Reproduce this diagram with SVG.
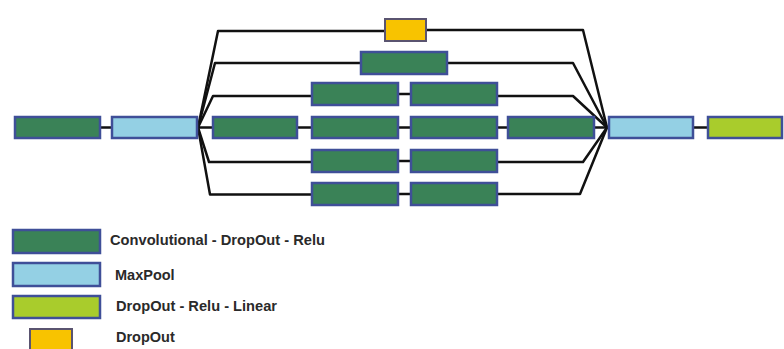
<svg xmlns="http://www.w3.org/2000/svg" width="784" height="349" viewBox="0 0 784 349">
<style>
.b{stroke:#3f4f98;stroke-width:2.5}
.g{fill:#3a8257}
.lb{fill:#94d0e4}
.lm{fill:#a9cc2c}
.y{fill:#f8c300;stroke:#5a5470;stroke-width:2}
.c{fill:none;stroke:#111;stroke-width:2.5;stroke-linejoin:round}
.t{font-family:"Liberation Sans",Arial,sans-serif;font-weight:bold;font-size:14.5px;fill:#2a2a2a}
</style>
<rect width="784" height="349" fill="#fff"/>
<g id="connectors">
<path class="c" d="M100,127.5H112"/>
<path class="c" d="M197,127.5H213"/>
<path class="c" d="M198,127.5L218,31H385"/>
<path class="c" d="M198,127.5L215,63H361"/>
<path class="c" d="M198,127.5L213,96H312"/>
<path class="c" d="M198,127.5L209,162H312"/>
<path class="c" d="M198,127.5L210,194.5H312"/>
<path class="c" d="M297,127.5H312"/>
<path class="c" d="M398,127.5H411"/>
<path class="c" d="M497,127.5H508"/>
<path class="c" d="M398,94H411"/>
<path class="c" d="M398,161H411"/>
<path class="c" d="M398,194H411"/>
<path class="c" d="M426,30H583L607,127.5"/>
<path class="c" d="M447,63H573L607,127.5"/>
<path class="c" d="M497,96H573L607,127.5"/>
<path class="c" d="M594,127.5H609"/>
<path class="c" d="M497,162H583L607,127.5"/>
<path class="c" d="M497,194H580L607,127.5"/>
<path class="c" d="M693,127.5H708"/>
</g>
<g id="in-conv"><rect class="b g" x="15" y="117" width="85" height="21"/></g>
<g id="in-pool"><rect class="b lb" x="112" y="117" width="85" height="21"/></g>
<g id="r1-drop"><rect class="y" x="385" y="19" width="41" height="22"/></g>
<g id="r2-c1"><rect class="b g" x="361" y="52" width="86" height="22"/></g>
<g id="r3-c1"><rect class="b g" x="312" y="83" width="86" height="22"/></g>
<g id="r3-c2"><rect class="b g" x="411" y="83" width="86" height="22"/></g>
<g id="r4-c1"><rect class="b g" x="213" y="117" width="84" height="21"/></g>
<g id="r4-c2"><rect class="b g" x="312" y="117" width="86" height="21"/></g>
<g id="r4-c3"><rect class="b g" x="411" y="117" width="86" height="21"/></g>
<g id="r4-c4"><rect class="b g" x="508" y="117" width="86" height="21"/></g>
<g id="r5-c1"><rect class="b g" x="312" y="150" width="86" height="22"/></g>
<g id="r5-c2"><rect class="b g" x="411" y="150" width="86" height="22"/></g>
<g id="r6-c1"><rect class="b g" x="312" y="183" width="86" height="22"/></g>
<g id="r6-c2"><rect class="b g" x="411" y="183" width="86" height="22"/></g>
<g id="out-pool"><rect class="b lb" x="609" y="117" width="84" height="21"/></g>
<g id="out-lin"><rect class="b lm" x="708" y="117" width="74" height="21"/></g>
<g id="legend">
<rect class="b g" x="13" y="230" width="87" height="23"/>
<text class="t" x="110" y="245" textLength="215" lengthAdjust="spacingAndGlyphs">Convolutional - DropOut - Relu</text>
<rect class="b lb" x="13" y="263" width="87" height="23"/>
<text class="t" x="115" y="280">MaxPool</text>
<rect class="b lm" x="13" y="296" width="87" height="22"/>
<text class="t" x="116" y="311" textLength="161" lengthAdjust="spacingAndGlyphs">DropOut - Relu - Linear</text>
<rect class="y" x="30" y="329" width="42" height="22"/>
<text class="t" x="116" y="342">DropOut</text>
</g>
</svg>
